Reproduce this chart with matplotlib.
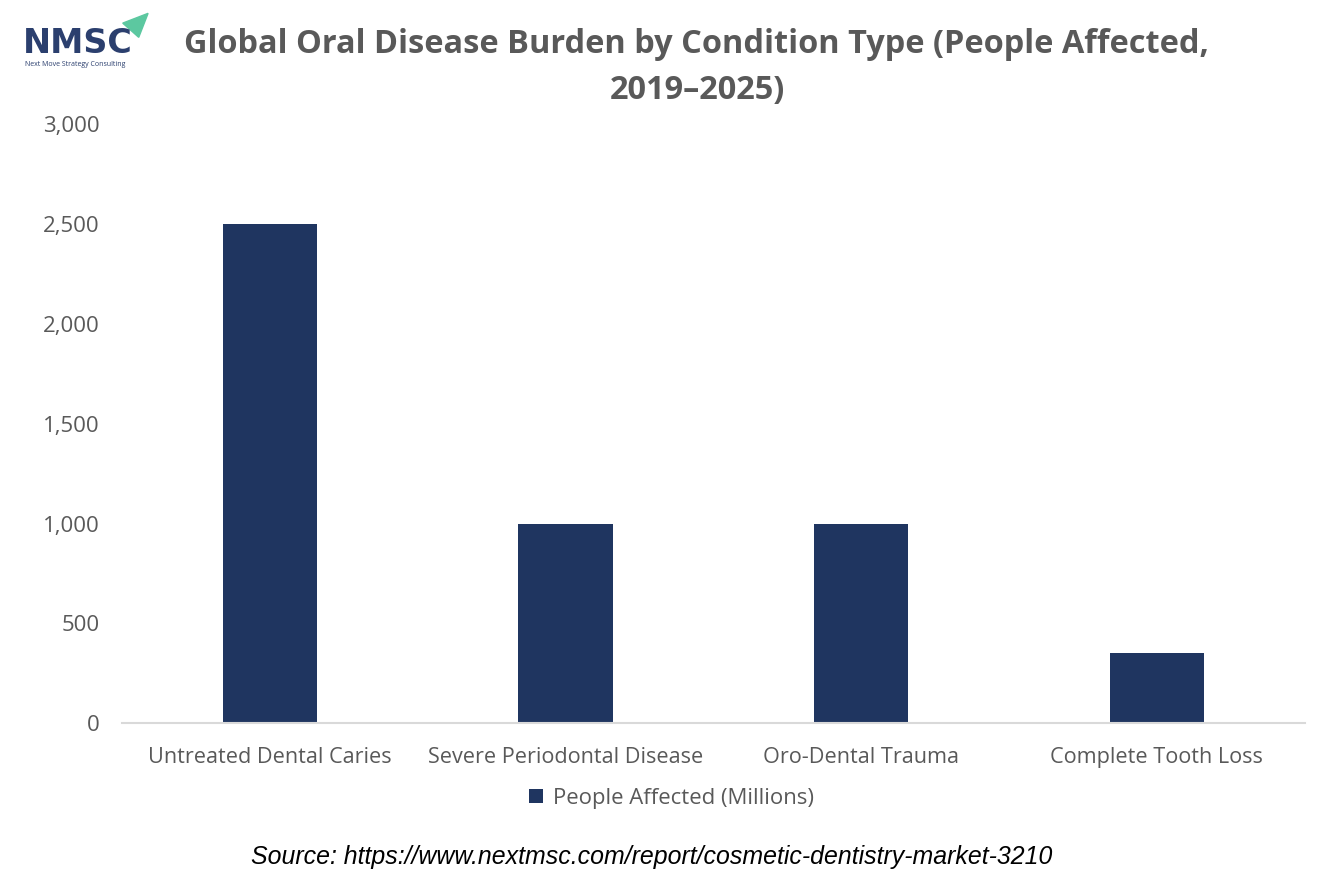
import matplotlib.pyplot as plt
from matplotlib.patches import Polygon
import numpy as np

categories = ['Untreated Dental Caries', 'Severe Periodontal Disease',
              'Oro-Dental Trauma', 'Complete Tooth Loss']
people_affected = [2500, 1000, 1000, 350]
y_ticks = [0, 500, 1000, 1500, 2000, 2500, 3000]

bar_color = '#1f3560'
text_grey = '#595959'

plt.rcParams['font.family'] = ['Open Sans', 'DejaVu Sans']

fig = plt.figure(figsize=(13.34, 8.89), dpi=100)
ax = fig.add_axes([0.0915, 0.1867, 0.8865, 0.6733])

x = np.arange(len(categories))
ax.bar(x, people_affected, width=0.32, color=bar_color, label='People Affected (Millions)')
ax.set_xlim(-0.5, len(categories) - 0.5)
ax.set_ylim(0, 3000)
ax.set_yticks(y_ticks)
ax.set_yticklabels([f'{v:,}' for v in y_ticks])
ax.set_xticks(x)
ax.set_xticklabels(categories)
ax.tick_params(axis='both', length=0, colors=text_grey)
ax.tick_params(axis='y', pad=16, labelsize=16)
ax.tick_params(axis='x', pad=17, labelsize=15.6)
for side in ['top', 'right', 'left']:
    ax.spines[side].set_visible(False)
ax.spines['bottom'].set_color('#d9d9d9')
ax.spines['bottom'].set_linewidth(1.5)

leg = fig.legend(loc='center', bbox_to_anchor=(0.5035, 0.102), frameon=False,
                 fontsize=15.9, handlelength=0.65, handleheight=0.65, handletextpad=0.45)
for t in leg.get_texts():
    t.set_color(text_grey)

fig.text(0.522, 0.950, 'Global Oral Disease Burden by Condition Type (People Affected,',
         ha='center', va='center', fontsize=23.4, fontweight='bold', color=text_grey)
fig.text(0.523, 0.898, '2019\u20132025)', ha='center', va='center',
         fontsize=23.4, fontweight='bold', color=text_grey)

fig.text(0.4885, 0.036, 'Source: https://www.nextmsc.com/report/cosmetic-dentistry-market-3210',
         ha='center', va='center', fontsize=17.9, style='italic', color='black',
         family='Liberation Sans')

# logo
fig.text(0.017, 0.951, 'NMSC', ha='left', va='center', fontsize=24, fontweight='bold',
         color='#2b3f6e', family='DejaVu Sans')
fig.text(0.019, 0.928, 'Next Move Strategy Consulting', ha='left', va='center',
         fontsize=5, color='#2b3f6e')
fig.patches.append(Polygon([[0.092, 0.974], [0.111, 0.985], [0.104, 0.958]],
                           closed=True, transform=fig.transFigure,
                           color='#5cc8a0', figure=fig))

fig.savefig('out.png', dpi=100)
